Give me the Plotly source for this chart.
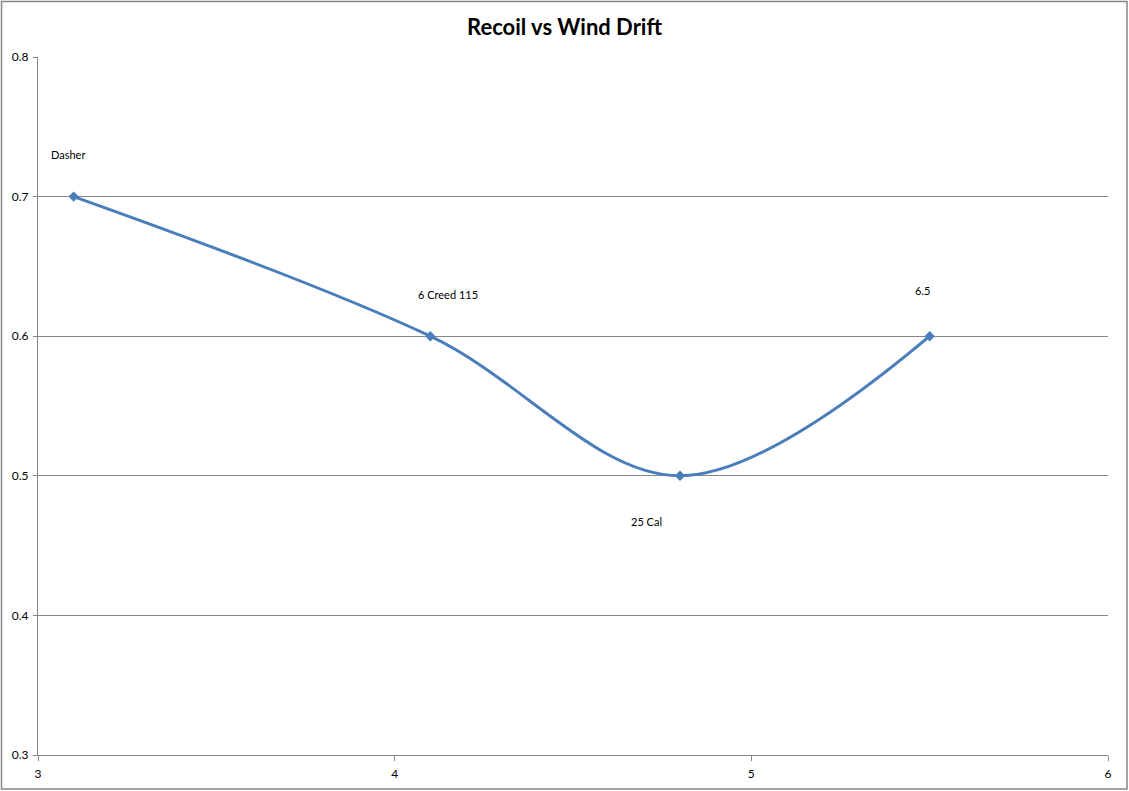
import plotly.graph_objects as go

recoil = [3.1, 4.1, 4.8, 5.5]
wind_drift = [0.7, 0.6, 0.5, 0.6]
names = ["Dasher", "6 Creed 115", "25 Cal", "6.5"]
label_x = [3.084, 4.15, 4.707, 5.481]
label_y = [0.7305, 0.630, 0.4676, 0.633]

fig = go.Figure()
fig.add_trace(go.Scatter(
    x=recoil, y=wind_drift, mode="lines+markers",
    line=dict(color="#4A7EBB", width=3, shape="spline", smoothing=1.0),
    marker=dict(symbol="diamond", size=8, color="#4A7EBB"),
    showlegend=False,
))

for n, lx, ly in zip(names, label_x, label_y):
    fig.add_annotation(x=lx, y=ly, text=n, showarrow=False,
                       font=dict(family="Lato, Open Sans, sans-serif", size=11, color="black"))

L, R, T, B = 38, 21, 57, 36
W, H = 1129, 791
pw, ph = W - L - R, H - T - B
fig.add_shape(type="rect", xref="paper", yref="paper",
              x0=(1.5 - L) / pw, x1=(1127 - L) / pw,
              y0=(H - B - 789) / ph, y1=(H - B - 1.5) / ph,
              line=dict(color="#868686", width=1.5), fillcolor="rgba(0,0,0,0)")

fig.update_layout(
    width=W, height=H,
    margin=dict(l=L, r=R, t=T, b=B),
    paper_bgcolor="white", plot_bgcolor="white",
    title=dict(text="<b>Recoil vs Wind Drift</b>", x=0.5, xanchor="center",
               y=1 - 27 / H, yanchor="middle",
               font=dict(family="Lato, Open Sans, sans-serif", size=22, color="black")),
    font=dict(family="Lato, Open Sans, sans-serif", size=11, color="black"),
    xaxis=dict(range=[3, 6], tickvals=[3, 4, 5, 6], showgrid=False, zeroline=False,
               showline=True, linecolor="#868686", linewidth=1, automargin=False,
               ticks="outside", ticklen=5, tickcolor="#868686",
               ticklabelstandoff=3, tickfont=dict(size=12)),
    yaxis=dict(range=[0.3, 0.8], tickvals=[0.3, 0.4, 0.5, 0.6, 0.7, 0.8],
               ticktext=["0.3", "0.4", "0.5", "0.6", "0.7", "0.8"],
               showgrid=True, gridcolor="#868686", gridwidth=1, zeroline=False,
               showline=True, linecolor="#868686", linewidth=1, automargin=False,
               ticks="outside", ticklen=4, tickcolor="#868686",
               ticklabelstandoff=2, tickfont=dict(size=12)),
)

fig.write_html("out.html", config={"displayModeBar": False},
               post_script="document.body.style.margin='0';document.body.style.overflow='hidden';")
